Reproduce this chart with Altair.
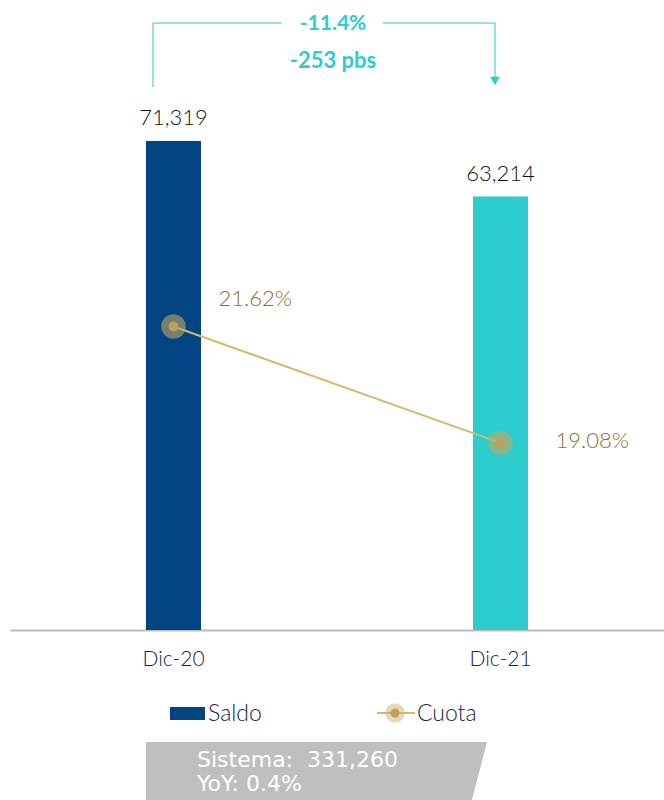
import altair as alt
import pandas as pd

# Series
periods = ["Dic-20", "Dic-21"]
saldo = [71319, 63214]
cuota = [21.62, 19.08]
saldo_labels = ["71,319", "63,214"]
cuota_labels = ["21.62%", "19.08%"]
bar_colors = ["#004481", "#2DCCCD"]

# Annotation texts
change_pct = "-11.4%"
change_pbs = "-253 pbs"
system_lines = ["Sistema:\u00a0\u00a0331,260", "YoY: 0.4%"]

FONT = "Lato"
NAVY_TEXT = "#17264A"
GOLD = "#D4BA6C"
GOLD_DOT = "#BE9F5C"
GOLD_TEXT = "#8C7030"
TURQ = "#2DCCCD"
TURQ_LINE = "#72D9DA"

df = pd.DataFrame({
    "periodo": periods,
    "saldo": saldo,
    "cuota": cuota,
    "saldo_txt": saldo_labels,
    "cuota_txt": cuota_labels,
    "color": bar_colors,
})

base = alt.Chart(df)

x_enc = alt.X(
    "periodo:N",
    sort=periods,
    scale=alt.Scale(paddingInner=0, paddingOuter=0),
    axis=alt.Axis(
        title=None, labelAngle=0, labelFontSize=21, labelFont=FONT,
        labelFontWeight=300, labelColor=NAVY_TEXT, labelPadding=18,
        ticks=False, grid=False, domainColor="#BDBDBD", domainWidth=2,
    ),
)

y_saldo = alt.Y("saldo:Q", scale=alt.Scale(domain=[0, 91880], nice=False), axis=None)
y_cuota = alt.Y("cuota:Q", scale=alt.Scale(domain=[15, 28.74], nice=False, zero=False), axis=None)

bars = base.mark_bar(size=55).encode(
    x=x_enc, y=y_saldo, color=alt.Color("color:N", scale=None)
)
bar_text = base.mark_text(
    baseline="bottom", dy=-11, fontSize=22, font=FONT, fontWeight=300, color="#111111"
).encode(x=x_enc, y=y_saldo, text="saldo_txt:N")

bar_layer = alt.layer(bars, bar_text)

line = base.mark_line(color=GOLD, strokeWidth=2).encode(x=x_enc, y=y_cuota)
halo = base.mark_point(filled=True, shape="circle", size=600, color="#C4A660",
                       opacity=0.6, strokeWidth=0).encode(x=x_enc, y=y_cuota)
dot = base.mark_point(filled=True, shape="circle", size=100, color=GOLD_DOT,
                      opacity=1, strokeWidth=0).encode(x=x_enc, y=y_cuota)
lbl_1 = base.transform_filter(alt.datum.periodo == periods[0]).mark_text(
    align="left", baseline="middle", dx=45, dy=-27, fontSize=22, font=FONT,
    fontWeight=300, color=GOLD_TEXT
).encode(x=x_enc, y=y_cuota, text="cuota_txt:N")
lbl_2 = base.transform_filter(alt.datum.periodo == periods[1]).mark_text(
    align="left", baseline="middle", dx=55, dy=-2, fontSize=22, font=FONT,
    fontWeight=300, color=GOLD_TEXT
).encode(x=x_enc, y=y_cuota, text="cuota_txt:N")

line_layer = alt.layer(line, halo, dot, lbl_1, lbl_2)

# Decorations drawn in pixel space of the plot group (origin at left padding)
one = alt.Chart(pd.DataFrame({"k": [0]}))
OX = 10


def seg(x1, y1, x2, y2, color, width):
    return one.mark_rule(color=color, strokeWidth=width).encode(
        x=alt.value(x1 - OX), y=alt.value(y1), x2=alt.value(x2 - OX), y2=alt.value(y2)
    )


def label(txt, x, y, size, color, weight="normal", align="left", font=FONT):
    return one.mark_text(
        text=txt, fontSize=size, font=font, color=color, fontWeight=weight,
        align=align, baseline="alphabetic",
    ).encode(x=alt.value(x - OX), y=alt.value(y))


bracket = [
    seg(153, 23, 153, 87, TURQ_LINE, 1.5),
    seg(153, 23, 282, 23, TURQ_LINE, 1.5),
    seg(383, 23, 495, 23, TURQ_LINE, 1.5),
    seg(495, 23, 495, 78, TURQ_LINE, 1.5),
    one.mark_point(shape="triangle-down", filled=True, size=95, color=TURQ,
                   opacity=1, strokeWidth=0).encode(x=alt.value(495 - OX), y=alt.value(81)),
    label(change_pct, 333, 30, 21, TURQ, "bold", "center"),
    label(change_pbs, 333, 68, 22, TURQ, "bold", "center"),
]

legend = [
    one.mark_rect(color="#004481").encode(
        x=alt.value(170 - OX), x2=alt.value(205 - OX), y=alt.value(707), y2=alt.value(720)
    ),
    label("Saldo", 208, 721, 23, NAVY_TEXT, 300),
    seg(377, 713, 415, 713, GOLD, 2),
    one.mark_point(filled=True, shape="circle", size=380, color="#C6A862", opacity=0.45,
                   strokeWidth=0).encode(x=alt.value(395 - OX), y=alt.value(713)),
    one.mark_point(filled=True, shape="circle", size=80, color=GOLD_DOT, opacity=1,
                   strokeWidth=0).encode(x=alt.value(395 - OX), y=alt.value(713)),
    label("Cuota", 417, 721, 23, NAVY_TEXT, 300),
]

# Gray summary box with a slanted right edge (custom path, unit = half-width)
box_path = "M -1 -0.17 L 1 -0.17 L 0.912 0.17 L -1 0.17 Z"
summary = [
    one.mark_point(shape=box_path, filled=True, size=341 ** 2, color="#BFBFBF",
                   opacity=1, strokeWidth=0).encode(x=alt.value(316.5 - OX), y=alt.value(771)),
    label(system_lines[0], 197, 767, 22, "white", "normal", font="DejaVu Sans"),
    label(system_lines[1], 197, 791, 22, "white", "normal", font="DejaVu Sans"),
]

chart = alt.layer(
    bar_layer, line_layer, *bracket, *legend, *summary
).resolve_scale(y="independent").properties(
    width=654,
    height=630,
    background="white",
    padding={"left": OX, "top": 0, "right": 0, "bottom": 170},
    autosize=alt.AutoSizeParams(type="none"),
).configure_view(strokeWidth=0, stroke=None)

chart.save("out.html", embed_options={"renderer": "svg", "actions": False})
